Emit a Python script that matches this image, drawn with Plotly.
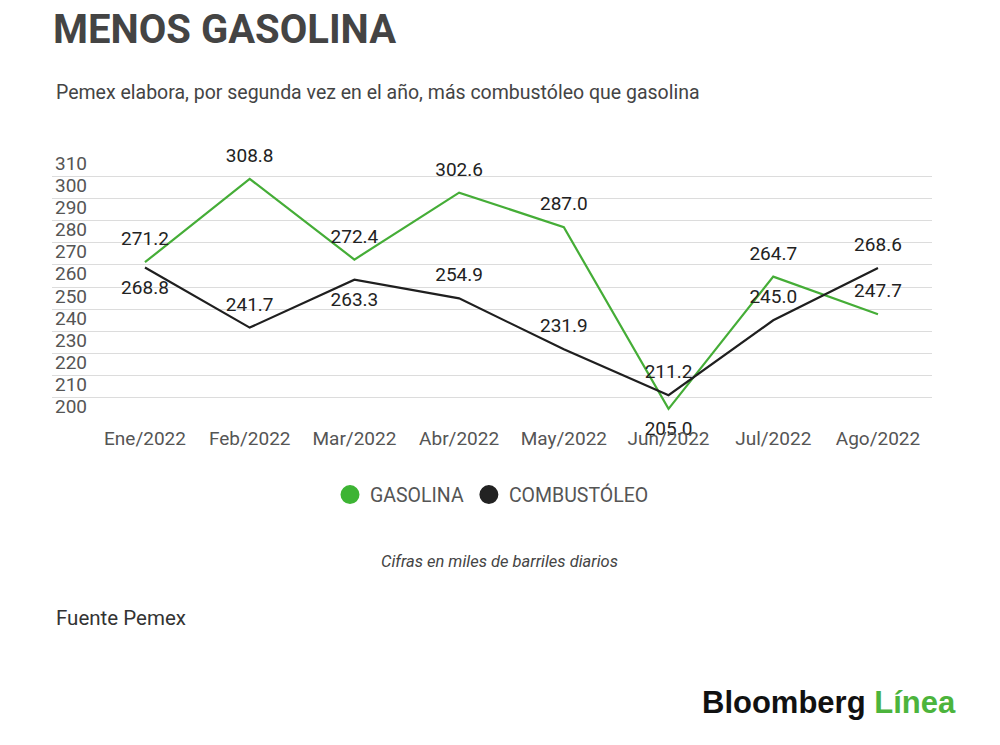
import plotly.graph_objects as go

months = ["Ene/2022", "Feb/2022", "Mar/2022", "Abr/2022", "May/2022", "Jun/2022", "Jul/2022", "Ago/2022"]
gasolina = [271.2, 308.8, 272.4, 302.6, 287.0, 205.0, 264.7, 247.7]
combustoleo = [268.8, 241.7, 263.3, 254.9, 231.9, 211.2, 245.0, 268.6]
y_ticks = [200, 210, 220, 230, 240, 250, 260, 270, 280, 290, 300, 310]

GREEN = "#45ad37"
BLACK = "#1f1f1f"
FONT = "Roboto"

gas_pos = ["top center"] * 5 + ["bottom center"] + ["top center"] * 2
comb_pos = ["bottom center", "top center", "bottom center", "top center",
            "top center", "top center", "top center", "top center"]

fig = go.Figure()
fig.add_trace(go.Scatter(
    x=months, y=gasolina, mode="lines+markers+text",
    line=dict(color=GREEN, width=2.2),
    marker=dict(size=18, color="rgba(0,0,0,0)"),
    text=[f"{v:.1f}" for v in gasolina], textposition=gas_pos,
    textfont=dict(family=FONT, size=19, color="#222"),
    cliponaxis=False, showlegend=False, hoverinfo="x+y"))
fig.add_trace(go.Scatter(
    x=months, y=combustoleo, mode="lines+markers+text",
    line=dict(color=BLACK, width=2.2),
    marker=dict(size=18, color="rgba(0,0,0,0)"),
    text=[f"{v:.1f}" for v in combustoleo], textposition=comb_pos,
    textfont=dict(family=FONT, size=19, color="#222"),
    cliponaxis=False, showlegend=False, hoverinfo="x+y"))
# legend entries
fig.add_trace(go.Scatter(x=[None], y=[None], mode="markers", name="GASOLINA",
                         marker=dict(size=22, color="#3db434", line=dict(width=3, color="#3db434"))))
fig.add_trace(go.Scatter(x=[None], y=[None], mode="markers", name="COMBUSTÓLEO",
                         marker=dict(size=22, color="#222222", line=dict(width=3, color="#222222"))))

W, H = 1000, 745
Y_TOP = 325.0
L, R, B = 52, 932, 420
SCALE = (420 - 176) / 110.0
T = 176 - (Y_TOP - 310) * SCALE

def px(x):
    return (x - L) / (R - L)

def py(y):
    return (B - y) / (B - T)

fig.update_layout(
    width=W, height=H,
    margin=dict(l=L, r=W - R, t=T, b=H - B, pad=0),
    paper_bgcolor="white", plot_bgcolor="white",
    font=dict(family=FONT, color="#555"),
    title=dict(text="<b>MENOS GASOLINA</b>", x=53 / W, xanchor="left", xref="container",
               y=1 - 29 / H, yanchor="middle", yref="container",
               font=dict(family=FONT, size=40, color="#444")),
    xaxis=dict(type="category", range=[-0.888, 7.516], showgrid=False, zeroline=False,
               showline=False, ticks="outside", ticklen=1, tickcolor="rgba(0,0,0,0)",
               tickfont=dict(family=FONT, size=19, color="#555")),
    yaxis=dict(range=[200, Y_TOP], tickvals=y_ticks, ticktext=[str(v) for v in y_ticks],
               showgrid=True, gridcolor="#dcdcdc", gridwidth=1, zeroline=False,
               showline=False, ticklabelposition="inside top", ticks="",
               tickfont=dict(family=FONT, size=19, color="#555")),
    legend=dict(orientation="h", x=0.5, xanchor="center", y=py(495), yanchor="middle",
                font=dict(family=FONT, size=19.5, color="#555"), itemsizing="trace"),
    annotations=[
        dict(text="Pemex elabora, por segunda vez en el año, más combustóleo que gasolina",
             x=px(54), y=py(92), xref="paper", yref="paper", xanchor="left", yanchor="middle",
             showarrow=False, font=dict(family=FONT, size=19.5, color="#444")),
        dict(text="<i>Cifras en miles de barriles diarios</i>",
             x=px(499), y=py(562), xref="paper", yref="paper", xanchor="center", yanchor="middle",
             showarrow=False, font=dict(family=FONT, size=16.5, color="#444")),
        dict(text="Fuente Pemex",
             x=px(54), y=py(618), xref="paper", yref="paper", xanchor="left", yanchor="middle",
             showarrow=False, font=dict(family=FONT, size=20.5, color="#333")),
        dict(text="<b>Bloomberg</b> <b><span style='color:#4cb43c'>Línea</span></b>",
             x=px(958), y=py(703), xref="paper", yref="paper", xanchor="right", yanchor="middle",
             showarrow=False, font=dict(family="Liberation Sans", size=31, color="#111")),
    ],
)

fig.write_html("out.html", config={"displayModeBar": False},
               post_script="document.body.style.margin='0px';")
